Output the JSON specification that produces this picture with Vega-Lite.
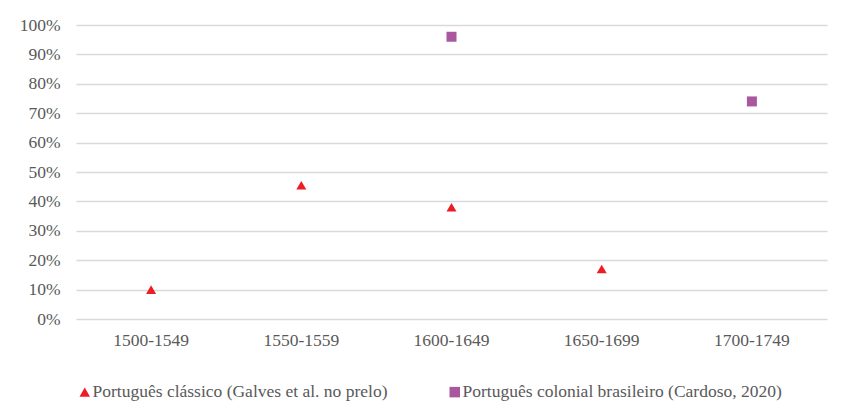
{
  "$schema": "https://vega.github.io/schema/vega-lite/v6.json",
  "width": 751,
  "height": 294,
  "autosize": {"type": "none"},
  "padding": {"left": 76, "top": 25, "right": 14, "bottom": 91},
  "background": "white",
  "config": {
    "view": {"stroke": null},
    "font": "Liberation Serif",
    "axis": {"labelFont": "Liberation Serif", "labelFontSize": 17.5, "labelColor": "#595959"},
    "legend": {"labelFont": "Liberation Serif", "labelFontSize": 17.5, "labelColor": "#595959"}
  },
  "data": {
    "values": [
      {"periodo": "1500-1549", "valor": 0.10, "serie": "Português clássico (Galves et al. no prelo)"},
      {"periodo": "1550-1559", "valor": 0.455, "serie": "Português clássico (Galves et al. no prelo)"},
      {"periodo": "1600-1649", "valor": 0.38, "serie": "Português clássico (Galves et al. no prelo)"},
      {"periodo": "1650-1699", "valor": 0.17, "serie": "Português clássico (Galves et al. no prelo)"},
      {"periodo": "1600-1649", "valor": 0.96, "serie": "Português colonial brasileiro (Cardoso, 2020)"},
      {"periodo": "1700-1749", "valor": 0.74, "serie": "Português colonial brasileiro (Cardoso, 2020)"}
    ]
  },
  "mark": {"type": "point", "filled": true, "opacity": 1, "size": 100},
  "encoding": {
    "x": {
      "field": "periodo",
      "type": "nominal",
      "sort": ["1500-1549", "1550-1559", "1600-1649", "1650-1699", "1700-1749"],
      "scale": {"type": "band", "paddingInner": 0, "paddingOuter": 0},
      "axis": {"title": null, "labelAngle": 0, "domain": false, "ticks": false, "labelPadding": 12, "grid": false}
    },
    "y": {
      "field": "valor",
      "type": "quantitative",
      "scale": {"domain": [0, 1], "nice": false},
      "axis": {"title": null, "format": ".0%", "values": [0, 0.1, 0.2, 0.3, 0.4, 0.5, 0.6, 0.7, 0.8, 0.9, 1], "domain": false, "ticks": false, "labelPadding": 16, "gridColor": "#d9d9d9", "gridWidth": 1.5}
    },
    "color": {
      "field": "serie",
      "type": "nominal",
      "scale": {"range": ["#ee1c25", "#a9579f"]},
      "legend": {"title": null, "orient": "bottom", "direction": "horizontal", "columns": 2, "columnPadding": 58, "symbolSize": 110, "labelLimit": 400, "offset": 34, "symbolOffset": 0, "labelOffset": -1}
    },
    "shape": {
      "field": "serie",
      "type": "nominal",
      "scale": {"range": ["triangle-up", "square"]},
      "legend": null
    }
  }
}
